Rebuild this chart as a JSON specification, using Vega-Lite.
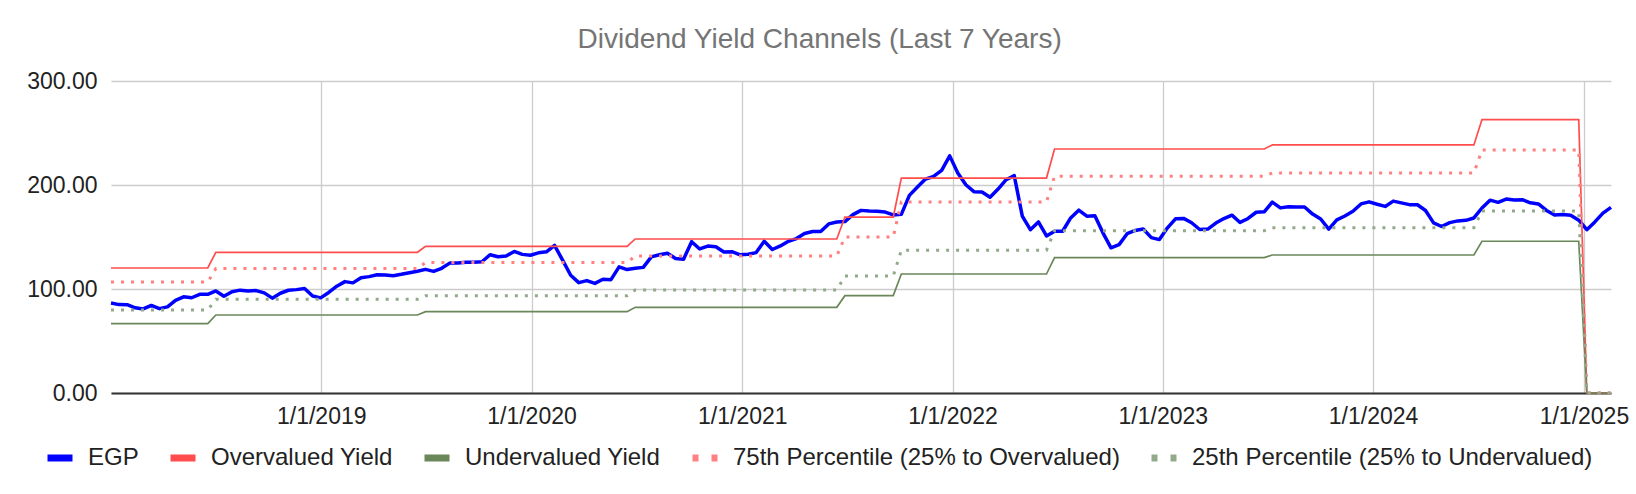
{
  "$schema": "https://vega.github.io/schema/vega-lite/v6.json",
  "width": 1500,
  "height": 312,
  "autosize": {"type": "none"},
  "padding": {"left": 111, "top": 81, "right": 25, "bottom": 101},
  "title": {
    "text": "Dividend Yield Channels (Last 7 Years)",
    "color": "#757575",
    "font": "Liberation Sans",
    "fontSize": 28,
    "fontWeight": "normal",
    "anchor": "middle",
    "frame": "bounds",
    "offset": 16,
    "dx": -8
  },
  "config": {
    "font": "Liberation Sans",
    "view": {"stroke": null},
    "axis": {
      "labelFont": "Liberation Sans",
      "labelFontSize": 23,
      "labelColor": "#222222",
      "ticks": false,
      "grid": true,
      "gridColor": "#cccccc",
      "gridWidth": 1.3,
      "domain": false,
      "title": null
    },
    "legend": {
      "orient": "none",
      "legendX": -67,
      "legendY": 361,
      "direction": "horizontal",
      "title": null,
      "padding": 0,
      "labelFont": "Liberation Sans",
      "labelFontSize": 24,
      "labelColor": "#222222",
      "labelLimit": 0,
      "symbolType": "stroke",
      "symbolSize": 625,
      "symbolStrokeWidth": 7,
      "labelOffset": 12,
      "columnPadding": 17
    }
  },
  "datasets": {
    "egp": [
      {"date": "2018-01-01", "EGP": 86.5}, {"date": "2018-01-15", "EGP": 85.0}, {"date": "2018-01-29", "EGP": 84.9},
      {"date": "2018-02-12", "EGP": 81.9}, {"date": "2018-02-26", "EGP": 80.8}, {"date": "2018-03-12", "EGP": 84.2},
      {"date": "2018-03-26", "EGP": 81.1}, {"date": "2018-04-09", "EGP": 82.8}, {"date": "2018-04-23", "EGP": 89.0},
      {"date": "2018-05-07", "EGP": 92.5}, {"date": "2018-05-21", "EGP": 91.6}, {"date": "2018-06-04", "EGP": 94.9},
      {"date": "2018-06-18", "EGP": 94.9}, {"date": "2018-07-02", "EGP": 98.1}, {"date": "2018-07-16", "EGP": 93.0},
      {"date": "2018-07-30", "EGP": 97.3}, {"date": "2018-08-13", "EGP": 98.9}, {"date": "2018-08-27", "EGP": 98.0},
      {"date": "2018-09-10", "EGP": 98.5}, {"date": "2018-09-24", "EGP": 96.3}, {"date": "2018-10-08", "EGP": 91.2},
      {"date": "2018-10-22", "EGP": 95.9}, {"date": "2018-11-05", "EGP": 98.8}, {"date": "2018-11-19", "EGP": 99.4},
      {"date": "2018-12-03", "EGP": 100.4}, {"date": "2018-12-17", "EGP": 93.2}, {"date": "2018-12-31", "EGP": 91.5},
      {"date": "2019-01-14", "EGP": 96.7}, {"date": "2019-01-28", "EGP": 102.7}, {"date": "2019-02-11", "EGP": 107.1},
      {"date": "2019-02-25", "EGP": 105.9}, {"date": "2019-03-11", "EGP": 110.8}, {"date": "2019-03-25", "EGP": 111.9},
      {"date": "2019-04-08", "EGP": 113.7}, {"date": "2019-04-22", "EGP": 113.4}, {"date": "2019-05-06", "EGP": 112.7},
      {"date": "2019-05-20", "EGP": 114.1}, {"date": "2019-06-03", "EGP": 115.7}, {"date": "2019-06-17", "EGP": 117.0},
      {"date": "2019-07-01", "EGP": 118.9}, {"date": "2019-07-15", "EGP": 116.9}, {"date": "2019-07-29", "EGP": 119.9},
      {"date": "2019-08-12", "EGP": 124.9}, {"date": "2019-08-26", "EGP": 124.9}, {"date": "2019-09-09", "EGP": 125.7},
      {"date": "2019-09-23", "EGP": 125.8}, {"date": "2019-10-07", "EGP": 126.2}, {"date": "2019-10-21", "EGP": 132.9},
      {"date": "2019-11-04", "EGP": 131.0}, {"date": "2019-11-18", "EGP": 131.8}, {"date": "2019-12-02", "EGP": 136.1},
      {"date": "2019-12-16", "EGP": 133.3}, {"date": "2019-12-30", "EGP": 132.5}, {"date": "2020-01-13", "EGP": 134.8},
      {"date": "2020-01-27", "EGP": 135.8}, {"date": "2020-02-10", "EGP": 141.9}, {"date": "2020-02-24", "EGP": 127.7},
      {"date": "2020-03-09", "EGP": 113.2}, {"date": "2020-03-23", "EGP": 106.1}, {"date": "2020-04-06", "EGP": 108.1},
      {"date": "2020-04-20", "EGP": 105.4}, {"date": "2020-05-04", "EGP": 109.4}, {"date": "2020-05-18", "EGP": 109.0},
      {"date": "2020-06-01", "EGP": 121.3}, {"date": "2020-06-15", "EGP": 118.7}, {"date": "2020-06-29", "EGP": 120.0},
      {"date": "2020-07-13", "EGP": 120.8}, {"date": "2020-07-27", "EGP": 130.9}, {"date": "2020-08-10", "EGP": 132.9},
      {"date": "2020-08-24", "EGP": 134.4}, {"date": "2020-09-07", "EGP": 129.4}, {"date": "2020-09-21", "EGP": 128.7},
      {"date": "2020-10-05", "EGP": 145.5}, {"date": "2020-10-19", "EGP": 138.5}, {"date": "2020-11-02", "EGP": 141.3},
      {"date": "2020-11-16", "EGP": 140.6}, {"date": "2020-11-30", "EGP": 135.6}, {"date": "2020-12-14", "EGP": 135.9},
      {"date": "2020-12-28", "EGP": 132.9}, {"date": "2021-01-11", "EGP": 133.5}, {"date": "2021-01-25", "EGP": 135.0},
      {"date": "2021-02-08", "EGP": 146.0}, {"date": "2021-02-22", "EGP": 138.0}, {"date": "2021-03-08", "EGP": 141.4},
      {"date": "2021-03-22", "EGP": 145.9}, {"date": "2021-04-05", "EGP": 148.5}, {"date": "2021-04-19", "EGP": 153.4},
      {"date": "2021-05-03", "EGP": 155.3}, {"date": "2021-05-17", "EGP": 155.2}, {"date": "2021-05-31", "EGP": 162.6},
      {"date": "2021-06-14", "EGP": 164.4}, {"date": "2021-06-28", "EGP": 164.8}, {"date": "2021-07-12", "EGP": 171.5},
      {"date": "2021-07-26", "EGP": 175.6}, {"date": "2021-08-09", "EGP": 174.9}, {"date": "2021-08-23", "EGP": 174.7},
      {"date": "2021-09-06", "EGP": 174.0}, {"date": "2021-09-20", "EGP": 171.2}, {"date": "2021-10-04", "EGP": 171.8},
      {"date": "2021-10-18", "EGP": 190.0}, {"date": "2021-11-01", "EGP": 198.0}, {"date": "2021-11-15", "EGP": 205.7},
      {"date": "2021-11-29", "EGP": 208.2}, {"date": "2021-12-13", "EGP": 214.0}, {"date": "2021-12-27", "EGP": 228.0},
      {"date": "2022-01-10", "EGP": 211.5}, {"date": "2022-01-24", "EGP": 200.2}, {"date": "2022-02-07", "EGP": 193.6},
      {"date": "2022-02-21", "EGP": 193.3}, {"date": "2022-03-07", "EGP": 188.2}, {"date": "2022-03-21", "EGP": 196.1},
      {"date": "2022-04-04", "EGP": 205.1}, {"date": "2022-04-18", "EGP": 209.0}, {"date": "2022-05-02", "EGP": 170.0},
      {"date": "2022-05-16", "EGP": 157.0}, {"date": "2022-05-30", "EGP": 164.5}, {"date": "2022-06-13", "EGP": 151.0},
      {"date": "2022-06-27", "EGP": 155.6}, {"date": "2022-07-11", "EGP": 155.5}, {"date": "2022-07-25", "EGP": 168.3},
      {"date": "2022-08-08", "EGP": 175.8}, {"date": "2022-08-22", "EGP": 170.0}, {"date": "2022-09-05", "EGP": 170.5},
      {"date": "2022-09-19", "EGP": 154.0}, {"date": "2022-10-03", "EGP": 139.6}, {"date": "2022-10-17", "EGP": 142.7},
      {"date": "2022-10-31", "EGP": 153.2}, {"date": "2022-11-14", "EGP": 156.3}, {"date": "2022-11-28", "EGP": 157.7},
      {"date": "2022-12-12", "EGP": 149.4}, {"date": "2022-12-26", "EGP": 147.5}, {"date": "2023-01-09", "EGP": 158.8},
      {"date": "2023-01-23", "EGP": 167.5}, {"date": "2023-02-06", "EGP": 167.9}, {"date": "2023-02-20", "EGP": 163.7},
      {"date": "2023-03-06", "EGP": 157.2}, {"date": "2023-03-20", "EGP": 157.6}, {"date": "2023-04-03", "EGP": 163.4},
      {"date": "2023-04-17", "EGP": 167.7}, {"date": "2023-05-01", "EGP": 171.0}, {"date": "2023-05-15", "EGP": 164.0},
      {"date": "2023-05-29", "EGP": 167.8}, {"date": "2023-06-12", "EGP": 173.8}, {"date": "2023-06-26", "EGP": 174.2},
      {"date": "2023-07-10", "EGP": 183.5}, {"date": "2023-07-24", "EGP": 178.0}, {"date": "2023-08-07", "EGP": 179.0},
      {"date": "2023-08-21", "EGP": 178.8}, {"date": "2023-09-04", "EGP": 178.8}, {"date": "2023-09-18", "EGP": 172.0},
      {"date": "2023-10-02", "EGP": 167.3}, {"date": "2023-10-16", "EGP": 157.5}, {"date": "2023-10-30", "EGP": 166.5},
      {"date": "2023-11-13", "EGP": 170.2}, {"date": "2023-11-27", "EGP": 174.7}, {"date": "2023-12-11", "EGP": 181.8},
      {"date": "2023-12-25", "EGP": 183.8}, {"date": "2024-01-08", "EGP": 181.5}, {"date": "2024-01-22", "EGP": 179.4},
      {"date": "2024-02-05", "EGP": 184.5}, {"date": "2024-02-19", "EGP": 182.8}, {"date": "2024-03-04", "EGP": 181.1},
      {"date": "2024-03-18", "EGP": 181.0}, {"date": "2024-04-01", "EGP": 175.5}, {"date": "2024-04-15", "EGP": 163.6},
      {"date": "2024-04-29", "EGP": 160.1}, {"date": "2024-05-13", "EGP": 163.8}, {"date": "2024-05-27", "EGP": 165.5},
      {"date": "2024-06-10", "EGP": 166.0}, {"date": "2024-06-24", "EGP": 168.3}, {"date": "2024-07-08", "EGP": 177.9},
      {"date": "2024-07-22", "EGP": 185.4}, {"date": "2024-08-05", "EGP": 183.3}, {"date": "2024-08-19", "EGP": 186.5},
      {"date": "2024-09-02", "EGP": 185.5}, {"date": "2024-09-16", "EGP": 185.9}, {"date": "2024-09-30", "EGP": 182.9},
      {"date": "2024-10-14", "EGP": 181.8}, {"date": "2024-10-28", "EGP": 175.5}, {"date": "2024-11-11", "EGP": 171.2},
      {"date": "2024-11-25", "EGP": 171.7}, {"date": "2024-12-09", "EGP": 171.0}, {"date": "2024-12-23", "EGP": 166.2},
      {"date": "2025-01-06", "EGP": 157.0}, {"date": "2025-01-20", "EGP": 164.5}, {"date": "2025-02-03", "EGP": 172.9},
      {"date": "2025-02-17", "EGP": 178.5}
    ],
    "bands": [
      {"date": "2018-01-01", "Overvalued Yield": 120.2, "Undervalued Yield": 66.7, "75th Percentile (25% to Overvalued)": 106.7, "25th Percentile (25% to Undervalued)": 79.8},
      {"date": "2018-06-18", "Overvalued Yield": 120.2, "Undervalued Yield": 66.7, "75th Percentile (25% to Overvalued)": 106.7, "25th Percentile (25% to Undervalued)": 79.8},
      {"date": "2018-07-02", "Overvalued Yield": 135.3, "Undervalued Yield": 75.0, "75th Percentile (25% to Overvalued)": 119.6, "25th Percentile (25% to Undervalued)": 90.1},
      {"date": "2019-06-17", "Overvalued Yield": 135.3, "Undervalued Yield": 75.0, "75th Percentile (25% to Overvalued)": 119.6, "25th Percentile (25% to Undervalued)": 90.1},
      {"date": "2019-07-01", "Overvalued Yield": 141.0, "Undervalued Yield": 78.2, "75th Percentile (25% to Overvalued)": 125.4, "25th Percentile (25% to Undervalued)": 93.6},
      {"date": "2020-06-15", "Overvalued Yield": 141.0, "Undervalued Yield": 78.2, "75th Percentile (25% to Overvalued)": 125.4, "25th Percentile (25% to Undervalued)": 93.6},
      {"date": "2020-06-29", "Overvalued Yield": 148.1, "Undervalued Yield": 82.4, "75th Percentile (25% to Overvalued)": 131.7, "25th Percentile (25% to Undervalued)": 99.0},
      {"date": "2021-06-14", "Overvalued Yield": 148.1, "Undervalued Yield": 82.4, "75th Percentile (25% to Overvalued)": 131.7, "25th Percentile (25% to Undervalued)": 99.0},
      {"date": "2021-06-28", "Overvalued Yield": 169.2, "Undervalued Yield": 93.6, "75th Percentile (25% to Overvalued)": 150.0, "25th Percentile (25% to Undervalued)": 112.5},
      {"date": "2021-09-20", "Overvalued Yield": 169.2, "Undervalued Yield": 93.6, "75th Percentile (25% to Overvalued)": 150.0, "25th Percentile (25% to Undervalued)": 112.5},
      {"date": "2021-10-04", "Overvalued Yield": 206.7, "Undervalued Yield": 114.4, "75th Percentile (25% to Overvalued)": 183.7, "25th Percentile (25% to Undervalued)": 137.2},
      {"date": "2022-06-13", "Overvalued Yield": 206.7, "Undervalued Yield": 114.4, "75th Percentile (25% to Overvalued)": 183.7, "25th Percentile (25% to Undervalued)": 137.2},
      {"date": "2022-06-27", "Overvalued Yield": 234.6, "Undervalued Yield": 130.2, "75th Percentile (25% to Overvalued)": 208.4, "25th Percentile (25% to Undervalued)": 156.1},
      {"date": "2023-06-26", "Overvalued Yield": 234.6, "Undervalued Yield": 130.2, "75th Percentile (25% to Overvalued)": 208.4, "25th Percentile (25% to Undervalued)": 156.1},
      {"date": "2023-07-10", "Overvalued Yield": 238.5, "Undervalued Yield": 132.7, "75th Percentile (25% to Overvalued)": 211.5, "25th Percentile (25% to Undervalued)": 159.0},
      {"date": "2024-06-24", "Overvalued Yield": 238.5, "Undervalued Yield": 132.7, "75th Percentile (25% to Overvalued)": 211.5, "25th Percentile (25% to Undervalued)": 159.0},
      {"date": "2024-07-08", "Overvalued Yield": 262.9, "Undervalued Yield": 145.9, "75th Percentile (25% to Overvalued)": 233.7, "25th Percentile (25% to Undervalued)": 175.0},
      {"date": "2024-12-23", "Overvalued Yield": 262.9, "Undervalued Yield": 145.9, "75th Percentile (25% to Overvalued)": 233.7, "25th Percentile (25% to Undervalued)": 175.0},
      {"date": "2025-01-06", "Overvalued Yield": 0, "Undervalued Yield": 0, "75th Percentile (25% to Overvalued)": 0, "25th Percentile (25% to Undervalued)": 0},
      {"date": "2025-02-17", "Overvalued Yield": 0, "Undervalued Yield": 0, "75th Percentile (25% to Overvalued)": 0, "25th Percentile (25% to Undervalued)": 0}
    ]
  },
  "encoding": {
    "x": {
      "field": "date",
      "type": "temporal",
      "scale": {
        "type": "utc",
        "nice": false,
        "domain": [
          {"year": 2018, "month": 1, "date": 1, "utc": true},
          {"year": 2025, "month": 2, "date": 17, "utc": true}
        ]
      },
      "axis": {
        "values": [
          {"year": 2019, "month": 1, "date": 1, "utc": true},
          {"year": 2020, "month": 1, "date": 1, "utc": true},
          {"year": 2021, "month": 1, "date": 1, "utc": true},
          {"year": 2022, "month": 1, "date": 1, "utc": true},
          {"year": 2023, "month": 1, "date": 1, "utc": true},
          {"year": 2024, "month": 1, "date": 1, "utc": true},
          {"year": 2025, "month": 1, "date": 1, "utc": true}
        ],
        "labelExpr": "utcFormat(datum.value, '%-m/%-d/%Y')",
        "domain": true,
        "domainColor": "#333333",
        "domainWidth": 2,
        "labelPadding": 12,
        "labelFlush": false
      }
    },
    "y": {
      "field": "value",
      "type": "quantitative",
      "scale": {"domain": [0, 300], "nice": false},
      "axis": {"values": [0, 100, 200, 300], "format": ".2f", "labelPadding": 14}
    },
    "color": {
      "field": "series",
      "type": "nominal",
      "scale": {
        "domain": ["EGP", "Overvalued Yield", "Undervalued Yield", "75th Percentile (25% to Overvalued)", "25th Percentile (25% to Undervalued)"],
        "range": ["#0000ff", "#ff4d4d", "#6a8759", "#ff8080", "#93a98b"]
      },
      "legend": {
        "encode": {
          "symbols": {
            "update": {
              "strokeDash": {"signal": "indexof(datum.value, 'Percentile') >= 0 ? [6, 13] : [1, 0]"}
            }
          }
        }
      }
    }
  },
  "layer": [
    {
      "data": {"name": "egp"},
      "transform": [{"fold": ["EGP"], "as": ["series", "value"]}],
      "mark": {"type": "line", "strokeWidth": 3.5, "strokeJoin": "round"}
    },
    {
      "data": {"name": "bands"},
      "transform": [{"fold": ["Overvalued Yield", "Undervalued Yield"], "as": ["series", "value"]}],
      "mark": {"type": "line", "strokeWidth": 1.7}
    },
    {
      "data": {"name": "bands"},
      "transform": [{"fold": ["75th Percentile (25% to Overvalued)", "25th Percentile (25% to Undervalued)"], "as": ["series", "value"]}],
      "mark": {"type": "line", "strokeWidth": 3, "strokeCap": "butt", "strokeDash": [3, 7]}
    }
  ]
}
